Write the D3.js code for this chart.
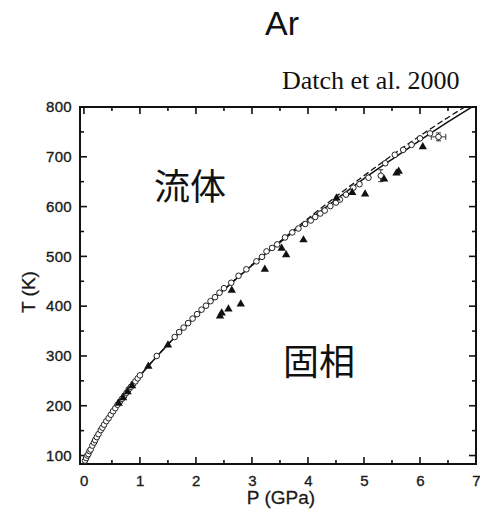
<!DOCTYPE html>
<html><head><meta charset="utf-8">
<script src="https://cdn.jsdelivr.net/npm/d3@7"></script>
<style>body{margin:0;background:#fff}svg{display:block}</style>
</head><body>
<svg id="c" width="480" height="512"></svg>
<script>
// ---- data ----
const xTicks = [0,1,2,3,4,5,6,7];
const yTicks = [100,200,300,400,500,600,700,800];
const lineP = [0,0.25,0.5,0.75,1,1.5,2,2.5,3,3.5,4,4.5,5,5.5,6,6.5,7];
const lineT = [84,140,185,224,260,323,380,433,482,528,572,614,656,695,733,770,805];
const dashT = [84,140,185,224,260,323,380,433,483,530,576,620,662,703,742,779,814];
const circP = [0.02,0.04,0.06,0.08,0.1,0.12,0.15,0.18,0.2,0.23,0.26,0.3,0.33,0.36,0.4,0.44,0.48,0.52,0.56,0.6,0.64,0.68,0.72,0.76,0.8,0.84,0.88,0.92,0.96,1.0,1.3,1.62,1.7,1.78,1.86,1.94,2.02,2.1,2.18,2.26,2.34,2.42,2.5,2.63,2.76,2.9,3.08,3.18,3.26,3.36,3.45,3.59,3.72,3.83,3.95,4.05,4.13,4.22,4.3,4.4,4.5,4.57,4.68,4.81,4.92,5.08,5.38,5.55,5.7,5.85,6.0,6.18];
const circT = [90,95,100,103,109,112,120,126,131,137,143,151,156,162,169,175,182,189,195,202,208,214,220,226,233,238,244,249,255,261,300,338,348,357,366,375,384,393,401,410,418,427,436,447,461,474,490,499,510,517,524,538,548,556,565,572,579,586,592,601,608,614,624,638,645,658,687,704,714,724,737,747];
const errP = [5.3, 6.33];
const errT = [662, 740];
const errDP = [0, 0.13];
const errDT = [12, 8];
const triP = [0.62,0.7,0.78,0.86,1.15,1.5,2.43,2.46,2.58,2.64,2.8,3.23,3.53,3.61,3.92,4.51,4.79,5.02,5.36,5.58,5.62,6.05];
const triT = [205,216,228,240,279,322,380,386,394,432,404,474,516,503,533,617,628,625,655,667,671,720];

// ---- layout ----
const svg = d3.select('#c');
const L=80, R=476, T=107, B=464;
const x = d3.scaleLinear().domain([-0.07,7]).range([L,R]);
const y = d3.scaleLinear().domain([83,800]).range([B,T]);
const tickFont = '"Liberation Sans", Arial, sans-serif';

svg.append('defs').append('clipPath').attr('id','clip')
  .append('rect').attr('x',L).attr('y',T).attr('width',R-L).attr('height',B-T);

// ticks inward on all sides
const xMinor = d3.range(0,7.01,0.5);
const yMinor = d3.range(100,801,50);
const tk = svg.append('g').attr('stroke','#111').attr('stroke-width',1.6);
xMinor.forEach(v=>{
  const len = Number.isInteger(v)?7:4;
  tk.append('line').attr('x1',x(v)).attr('x2',x(v)).attr('y1',B).attr('y2',B-len);
  tk.append('line').attr('x1',x(v)).attr('x2',x(v)).attr('y1',T).attr('y2',T+len);
});
yMinor.forEach(v=>{
  const len = v%100===0?7:4;
  tk.append('line').attr('y1',y(v)).attr('y2',y(v)).attr('x1',L).attr('x2',L+len);
  tk.append('line').attr('y1',y(v)).attr('y2',y(v)).attr('x1',R).attr('x2',R-len);
});

// axes labels via d3 axes (no lines)
const styleTicks = sel => sel.selectAll('text').attr('font-family',tickFont).attr('font-size',15)
  .attr('fill','#1a1a1a').attr('stroke','#1a1a1a').attr('stroke-width',0.35).attr('letter-spacing','0.3');
const gx = svg.append('g').attr('transform',`translate(0,${B})`)
  .call(d3.axisBottom(x).tickValues(xTicks).tickSize(0).tickPadding(11).tickFormat(d3.format('d')));
gx.select('.domain').remove();
styleTicks(gx);
const gy = svg.append('g').attr('transform',`translate(${L},0)`)
  .call(d3.axisLeft(y).tickValues(yTicks).tickSize(0).tickPadding(8).tickFormat(d3.format('d')));
gy.select('.domain').remove();
styleTicks(gy);

// frame
svg.append('rect').attr('x',L).attr('y',T).attr('width',R-L).attr('height',B-T)
  .attr('fill','none').attr('stroke','#111').attr('stroke-width',2);

const plot = svg.append('g').attr('clip-path','url(#clip)');
const lineGen = d3.line().curve(d3.curveMonotoneX);
plot.append('path').attr('d',lineGen(lineP.map((p,i)=>[x(p),y(dashT[i])])))
  .attr('fill','none').attr('stroke','#111').attr('stroke-width',1.3).attr('stroke-dasharray','6,3');
plot.append('path').attr('d',lineGen(lineP.map((p,i)=>[x(p),y(lineT[i])])))
  .attr('fill','none').attr('stroke','#111').attr('stroke-width',1.5);

// error bars
errP.forEach((p,i)=>{
  const g = plot.append('g').attr('stroke','#333').attr('stroke-width',1);
  if(errDP[i]>0){
    g.append('line').attr('x1',x(p-errDP[i])).attr('x2',x(p+errDP[i])).attr('y1',y(errT[i])).attr('y2',y(errT[i]));
    [p-errDP[i],p+errDP[i]].forEach(e=>g.append('line').attr('x1',x(e)).attr('x2',x(e)).attr('y1',y(errT[i])-3).attr('y2',y(errT[i])+3));
  }
  g.append('line').attr('x1',x(p)).attr('x2',x(p)).attr('y1',y(errT[i]-errDT[i])).attr('y2',y(errT[i]+errDT[i]));
  [errT[i]-errDT[i],errT[i]+errDT[i]].forEach(e=>g.append('line').attr('x1',x(p)-2.5).attr('x2',x(p)+2.5).attr('y1',y(e)).attr('y2',y(e)));
});

// open circles
plot.selectAll('circle.o').data(circP.map((p,i)=>[p,circT[i]]).concat(errP.map((p,i)=>[p,errT[i]])))
  .enter().append('circle').attr('cx',d=>x(d[0])).attr('cy',d=>y(d[1])).attr('r',2.8)
  .attr('fill','white').attr('stroke','#222').attr('stroke-width',1);

// filled triangles
const tri = d3.symbol().type(d3.symbolTriangle).size(30);
plot.selectAll('path.t').data(triP.map((p,i)=>[p,triT[i]])).enter().append('path')
  .attr('d',tri).attr('transform',d=>`translate(${x(d[0])},${y(d[1])})`).attr('fill','#111');

// axis titles
svg.append('text').attr('x',281).attr('y',504).attr('text-anchor','middle')
  .attr('font-family',tickFont).attr('font-size',19).attr('fill','#1a1a1a').attr('stroke','#1a1a1a').attr('stroke-width',0.3).text('P (GPa)');
svg.append('text').attr('transform','translate(35,292) rotate(-90)').attr('text-anchor','middle')
  .attr('font-family',tickFont).attr('font-size',19).attr('fill','#1a1a1a').attr('stroke','#1a1a1a').attr('stroke-width',0.3).text('T (K)');

// titles
svg.append('text').attr('x',282).attr('y',35).attr('text-anchor','middle')
  .attr('font-family','"Liberation Sans", Arial, sans-serif').attr('font-size',34).attr('fill','#111').text('Ar');
svg.append('text').attr('x',282).attr('y',89)
  .attr('font-family','"Liberation Serif", "Times New Roman", serif').attr('font-size',26).attr('fill','#111').text('Datch et al. 2000');

// region labels
const cjk = '"Noto Sans CJK JP", "Noto Sans CJK SC", sans-serif';
svg.append('text').attr('x',154).attr('y',200).attr('font-family',cjk).attr('font-size',36).attr('fill','#111').text('流体');
svg.append('text').attr('x',283).attr('y',375).attr('font-family',cjk).attr('font-size',36).attr('fill','#111').text('固相');
</script>
</body></html>
